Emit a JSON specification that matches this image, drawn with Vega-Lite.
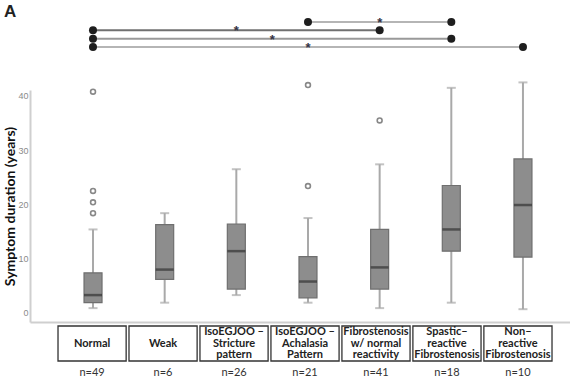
{
  "$schema": "https://vega.github.io/schema/vega-lite/v6.json",
  "padding": {"left": 3, "top": 3, "right": 0, "bottom": 0},
  "background": "white",
  "bounds": "flush",
  "spacing": 0,
  "title": {"text": "A", "anchor": "start", "frame": "bounds", "fontSize": 17, "font": "Liberation Sans", "fontWeight": "bold", "color": "#222", "offset": 0, "dy": 4, "dx": 0},
  "datasets": {
    "boxes": [
      {"group": "Normal", "lower": 0.9, "q1": 1.9, "median": 3.3, "q3": 7.4, "upper": 15.4},
      {"group": "Weak", "lower": 1.9, "q1": 6.2, "median": 8.0, "q3": 16.3, "upper": 18.4},
      {"group": "IsoEGJOO – Stricture pattern", "lower": 3.3, "q1": 4.4, "median": 11.4, "q3": 16.4, "upper": 26.5},
      {"group": "IsoEGJOO – Achalasia Pattern", "lower": 1.9, "q1": 2.8, "median": 5.8, "q3": 10.4, "upper": 17.5},
      {"group": "Fibrostenosis w/ normal reactivity", "lower": 0.9, "q1": 4.4, "median": 8.4, "q3": 15.4, "upper": 27.4},
      {"group": "Spastic–reactive Fibrostenosis", "lower": 1.9, "q1": 11.4, "median": 15.4, "q3": 23.5, "upper": 41.5},
      {"group": "Non–reactive Fibrostenosis", "lower": 0.7, "q1": 10.3, "median": 19.9, "q3": 28.4, "upper": 42.5}
    ],
    "outliers": [
      {"group": "Normal", "value": 40.8},
      {"group": "Normal", "value": 22.5},
      {"group": "Normal", "value": 20.4},
      {"group": "Normal", "value": 18.4},
      {"group": "IsoEGJOO – Achalasia Pattern", "value": 42.0},
      {"group": "IsoEGJOO – Achalasia Pattern", "value": 23.4},
      {"group": "Fibrostenosis w/ normal reactivity", "value": 35.5}
    ],
    "labels": [
      {"group": "Normal", "label": ["Normal"], "n": "n=49"},
      {"group": "Weak", "label": ["Weak"], "n": "n=6"},
      {"group": "IsoEGJOO – Stricture pattern", "label": ["IsoEGJOO –", "Stricture", "pattern"], "n": "n=26"},
      {"group": "IsoEGJOO – Achalasia Pattern", "label": ["IsoEGJOO –", "Achalasia", "Pattern"], "n": "n=21"},
      {"group": "Fibrostenosis w/ normal reactivity", "label": ["Fibrostenosis", "w/ normal", "reactivity"], "n": "n=41"},
      {"group": "Spastic–reactive Fibrostenosis", "label": ["Spastic–", "reactive", "Fibrostenosis"], "n": "n=18"},
      {"group": "Non–reactive Fibrostenosis", "label": ["Non–", "reactive", "Fibrostenosis"], "n": "n=10"}
    ],
    "brackets": [
      {"comparison": "c1", "from": 3, "to": 5, "p": "*"},
      {"comparison": "c2", "from": 0, "to": 4, "p": "*"},
      {"comparison": "c3", "from": 0, "to": 5, "p": "*"},
      {"comparison": "c4", "from": 0, "to": 6, "p": "*"}
    ]
  },
  "vconcat": [
    {
      "width": 540,
      "height": 73,
      "data": {"name": "brackets"},
      "layer": [
        {
          "mark": {"type": "rule", "strokeWidth": 2},
          "encoding": {
            "x": {"field": "from", "type": "quantitative", "scale": {"domain": [-0.879, 6.656], "nice": false, "zero": false}, "axis": null},
            "x2": {"field": "to"},
            "y": {"field": "comparison", "type": "ordinal", "scale": {"type": "point", "padding": 0, "range": [5, 30], "domain": ["c1", "c2", "c3", "c4"]}, "axis": null},
            "color": {"field": "comparison", "type": "nominal", "scale": {"domain": ["c1", "c2", "c3", "c4"], "range": ["#b5b5b5", "#707070", "#999999", "#b5b5b5"]}, "legend": null}
          }
        },
        {
          "transform": [{"fold": ["from", "to"], "as": ["end", "pos"]}],
          "mark": {"type": "point", "filled": true, "size": 64, "color": "#1e1e1e", "opacity": 1},
          "encoding": {
            "x": {"field": "pos", "type": "quantitative"},
            "y": {"field": "comparison", "type": "ordinal"}
          }
        },
        {
          "transform": [{"fold": ["from", "to"], "as": ["end", "pos"]}],
          "mark": {"type": "text", "fontSize": 13, "fontWeight": "bold", "font": "Liberation Sans", "color": "#333344", "baseline": "alphabetic", "dy": 5},
          "encoding": {
            "x": {"aggregate": "mean", "field": "pos", "type": "quantitative"},
            "y": {"field": "comparison", "type": "ordinal"},
            "text": {"field": "p", "type": "nominal"}
          }
        }
      ]
    },
    {
      "width": 540,
      "height": 232,
      "layer": [
        {
          "data": {"name": "boxes"},
          "mark": {"type": "rule", "color": "#a9a9a9", "strokeWidth": 2},
          "encoding": {
            "x": {"field": "group", "type": "nominal", "sort": null,
                  "scale": {"type": "band", "paddingInner": 0, "paddingOuter": 0.268, "align": 0.708},
                  "axis": {"labels": false, "ticks": false, "title": null, "domainColor": "#cfcfcf", "domainWidth": 2}},
            "y": {"field": "lower", "type": "quantitative",
                  "scale": {"domain": [-1.66, 41.1], "nice": false, "zero": false},
                  "axis": {"values": [0, 5, 10, 15, 20, 25, 30, 35, 40], "grid": false, "ticks": false, "domainColor": "#cfcfcf", "domainWidth": 2,
                           "labelFont": "Liberation Sans Narrow, Liberation Sans, sans-serif", "labelFontSize": 9, "labelColor": "#8a8a8a", "labelPadding": 2,
                           "title": "Symptom duration (years)", "titleFont": "Lato", "titleFontSize": 14, "titleFontWeight": "bold", "titleColor": "#111", "titlePadding": 0}},
            "y2": {"field": "upper"}
          }
        },
        {
          "data": {"name": "boxes"},
          "mark": {"type": "tick", "color": "#a9a9a9", "thickness": 2, "size": 9},
          "encoding": {
            "x": {"field": "group", "type": "nominal", "sort": null},
            "y": {"field": "upper", "type": "quantitative"}
          }
        },
        {
          "data": {"name": "boxes"},
          "mark": {"type": "tick", "color": "#a9a9a9", "thickness": 2, "size": 9},
          "encoding": {
            "x": {"field": "group", "type": "nominal", "sort": null},
            "y": {"field": "lower", "type": "quantitative"}
          }
        },
        {
          "data": {"name": "boxes"},
          "mark": {"type": "bar", "width": 18, "color": "#8d8d8d", "stroke": "#6f6f6f", "strokeWidth": 1.2},
          "encoding": {
            "x": {"field": "group", "type": "nominal", "sort": null},
            "y": {"field": "q1", "type": "quantitative"},
            "y2": {"field": "q3"}
          }
        },
        {
          "data": {"name": "boxes"},
          "mark": {"type": "tick", "color": "#333333", "thickness": 2.5, "size": 18},
          "encoding": {
            "x": {"field": "group", "type": "nominal", "sort": null},
            "y": {"field": "median", "type": "quantitative"}
          }
        },
        {
          "data": {"name": "outliers"},
          "mark": {"type": "point", "shape": "circle", "filled": false, "size": 24, "stroke": "#888888", "strokeWidth": 1.6, "opacity": 1, "clip": false},
          "encoding": {
            "x": {"field": "group", "type": "nominal", "sort": null},
            "y": {"field": "value", "type": "quantitative"}
          }
        }
      ]
    },
    {
      "width": 540,
      "height": 62,
      "data": {"name": "labels"},
      "layer": [
        {
          "mark": {"type": "bar", "fill": "white", "stroke": "#333333", "strokeWidth": 1.3},
          "encoding": {
            "x": {"field": "group", "type": "nominal", "sort": null,
                  "scale": {"type": "band", "paddingInner": 0.04, "paddingOuter": 0.324, "align": 0.609}, "axis": null},
            "y": {"datum": 4, "type": "quantitative", "scale": {"domain": [0, 62], "reverse": true, "nice": false, "zero": false}, "axis": null},
            "y2": {"datum": 39}
          }
        },
        {
          "transform": [{"filter": "length(datum.label) == 1"}],
          "mark": {"type": "text", "font": "Lato", "fontWeight": "bold", "fontSize": 11, "color": "#222", "baseline": "middle", "align": "center"},
          "encoding": {
            "x": {"field": "group", "type": "nominal", "sort": null},
            "y": {"datum": 21.5, "type": "quantitative"},
            "text": {"field": "label"}
          }
        },
        {
          "transform": [{"filter": "length(datum.label) > 1"}],
          "mark": {"type": "text", "font": "Lato", "fontWeight": "bold", "fontSize": 11, "color": "#222", "lineHeight": 11.5, "baseline": "middle", "align": "center"},
          "encoding": {
            "x": {"field": "group", "type": "nominal", "sort": null},
            "y": {"datum": 10, "type": "quantitative"},
            "text": {"field": "label"}
          }
        },
        {
          "mark": {"type": "text", "font": "Lato", "fontSize": 11, "color": "#333", "baseline": "middle", "align": "center"},
          "encoding": {
            "x": {"field": "group", "type": "nominal", "sort": null},
            "y": {"datum": 51, "type": "quantitative"},
            "text": {"field": "n"}
          }
        }
      ]
    }
  ],
  "resolve": {"scale": {"x": "independent", "y": "independent", "color": "independent"}},
  "config": {"view": {"stroke": null}, "axis": {"domainCap": "butt"}}
}
